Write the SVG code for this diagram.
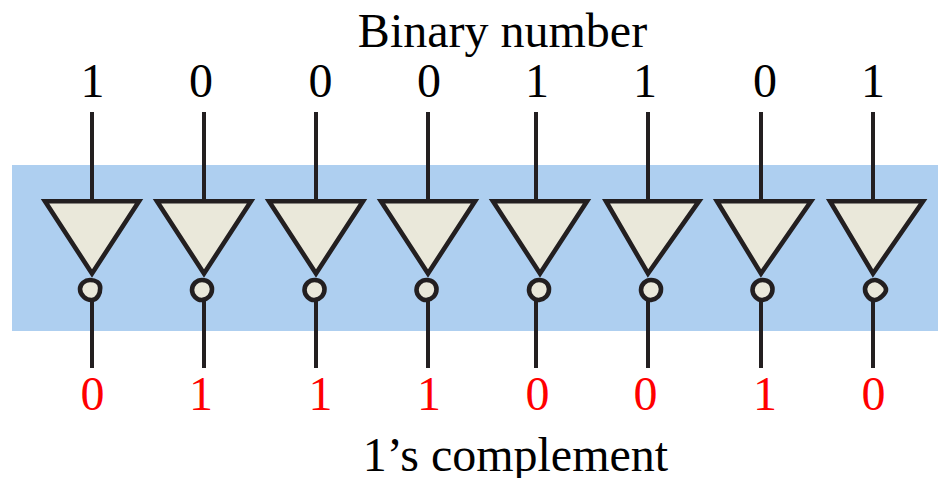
<svg xmlns="http://www.w3.org/2000/svg" width="938" height="478" viewBox="0 0 938 478">
<defs>
<style>
text{font-family:"Liberation Serif","Times New Roman",serif;font-size:48px;text-anchor:middle}
.o{fill:#000}.r{fill:#f00}
.w{stroke:#231f20;stroke-width:4;fill:none}
.g{fill:#eae8da;stroke:#231f20;stroke-width:4.6;stroke-linejoin:miter}
</style>
<path id="a" class="g" d="M-10 -1C-10 -6 -5 -10 0 -10C6 -10 10.200 -7 10.200 -2C10.200 3 8 9.500 2 10C-4 10.400 -10 5 -10 -1Z"/>
<path id="b" class="g" d="M-10 0C-10 -6 -5 -10 0 -10C6 -10 10 -6 10 -1C10 5 6 9 0 10C-5 10.400 -10 5 -10 0Z"/>
<path id="c" class="g" d="M-10 -1C-10 -6 -5 -10 0 -10C4 -10 11 -5 11 0C11 3 5 9.500 0 10C-5 10.400 -10 5 -10 -1Z"/>
</defs>
<rect x="12" y="165" width="926" height="166" fill="#aecff0"/>
<g id="connectors">
<path class="w" d="M92 112V200M92 300V368M204 112V200M204 300V368M316 112V200M316 300V368M428 112V200M428 300V368M536 112V200M536 300V368M648 112V200M648 300V368M761 112V200M761 300V368M873 112V200M873 300V368"/>
</g>
<g id="inverter-1"><path class="g" d="M45 201.2H139L92 273.500Z"/><use href="#a" x="90" y="290"/></g>
<g id="inverter-2"><path class="g" d="M157 201.2H251L204 273.500Z"/><use href="#b" x="202" y="290"/></g>
<g id="inverter-3"><path class="g" d="M269 201.2H363L316 273.500Z"/><use href="#b" x="314.500" y="290"/></g>
<g id="inverter-4"><path class="g" d="M381 201.2H475L428 273.500Z"/><use href="#b" x="426.500" y="290"/></g>
<g id="inverter-5"><path class="g" d="M493 201.2H587L540 273.500Z"/><use href="#b" x="539" y="290"/></g>
<g id="inverter-6"><path class="g" d="M606 201.2H699L648 273.500Z"/><use href="#b" x="651" y="290"/></g>
<g id="inverter-7"><path class="g" d="M717 201.2H811L761 273.500Z"/><use href="#b" x="762.500" y="290"/></g>
<g id="inverter-8"><path class="g" d="M830 201.2H923L873 273.500Z"/><use href="#c" x="875" y="290"/></g>
<text x="502.500" y="47">Binary number</text>
<g class="o"><text x="92.500" y="97">1</text><text x="201" y="97">0</text><text x="320.500" y="97">0</text><text x="429" y="97">0</text><text x="537" y="97">1</text><text x="645" y="97">1</text><text x="765" y="97">0</text><text x="873" y="97">1</text></g>
<g class="r"><text x="92.500" y="410">0</text><text x="201" y="410">1</text><text x="320.500" y="410">1</text><text x="429" y="410">1</text><text x="537.500" y="410">0</text><text x="645.500" y="410">0</text><text x="765" y="410">1</text><text x="873.500" y="410">0</text></g>
<text x="515.500" y="471">1’s complement</text>
</svg>
